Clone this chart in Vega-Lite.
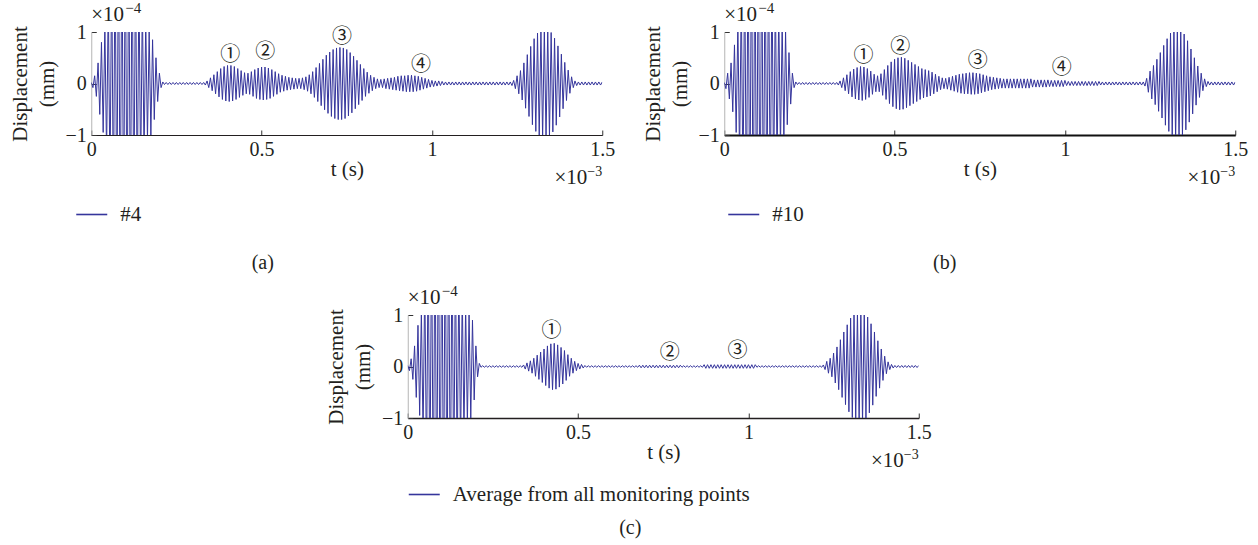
{
"$schema": "https://vega.github.io/schema/vega-lite/v6.json",
"background": "white",
"padding": {"left": 9, "top": 1, "right": 5, "bottom": 5},
"config": {
  "font": "Liberation Serif",
  "view": {"stroke": null},
  "axis": {"labelFont": "Liberation Serif", "labelFontSize": 20, "labelColor": "#231f20", "titleFont": "Liberation Serif", "titleFontSize": 21, "titleFontWeight": "normal", "titleColor": "#231f20", "grid": false, "tickSize": -5, "tickColor": "#333333", "domainColor": "#231f20", "labelFlush": false, "labelOverlap": false},
  "axisX": {"labelPadding": 9, "titleY": 40, "titleBaseline": "alphabetic", "titleAnchor": "middle"},
  "axisY": {"labelPadding": 10, "titleAngle": -90, "titleX": -71, "titleY": 51.5, "titleBaseline": "middle", "titleAlign": "center", "titleLineHeight": 27, "domainColor": "#b5b5b5"},
  "legend": {"orient": "none", "symbolType": "stroke", "symbolSize": 961, "symbolStrokeWidth": 1.6, "labelFont": "Liberation Serif", "labelFontSize": 21, "labelColor": "#231f20", "labelOffset": 12, "labelLimit": 500, "padding": 0},
  "title": {"font": "Liberation Serif", "fontSize": 20, "fontWeight": "normal", "color": "#231f20"},
  "text": {"font": "Liberation Serif", "color": "#231f20"}
},
"datasets": {
"wave": [
{"t":0,"a":0.02,"b":0.02,"c":0.02},
{"t":0.005,"a":-0.08,"b":-0.1,"c":-0.08},
{"t":0.01,"a":0.15,"b":0.2,"c":0.15},
{"t":0.015,"a":-0.25,"b":-0.3,"c":-0.25},
{"t":0.02,"a":0.4,"b":0.4,"c":0.4},
{"t":0.025,"a":-0.6,"b":-0.55,"c":-0.6},
{"t":0.03,"a":0.8,"b":0.75,"c":0.8},
{"t":0.035,"a":-0.95,"b":-0.95,"c":-0.95},
{"t":0.04,"a":1.15,"b":1.2,"c":1.1},
{"t":0.045,"a":-1.4,"b":-1.5,"c":-1.35},
{"t":0.05,"a":1.7,"b":1.8,"c":1.7},
{"t":0.055,"a":-2,"b":-2.1,"c":-2},
{"t":0.06,"a":2.3,"b":2.4,"c":2.3},
{"t":0.065,"a":-2.5,"b":-2.6,"c":-2.5},
{"t":0.07,"a":2.7,"b":2.8,"c":2.7},
{"t":0.075,"a":-2.9,"b":-3,"c":-2.9},
{"t":0.08,"a":3,"b":3.1,"c":3},
{"t":0.085,"a":-3.1,"b":-3.2,"c":-3.1},
{"t":0.09,"a":3.2,"b":3.2,"c":3.2},
{"t":0.095,"a":-3.2,"b":-3.2,"c":-3.2},
{"t":0.1,"a":3.2,"b":3.2,"c":3.2},
{"t":0.105,"a":-3.2,"b":-3.2,"c":-3.2},
{"t":0.11,"a":3.1,"b":3.1,"c":3.1},
{"t":0.115,"a":-3,"b":-3,"c":-3},
{"t":0.12,"a":2.9,"b":2.9,"c":2.9},
{"t":0.125,"a":-2.7,"b":-2.8,"c":-2.8},
{"t":0.13,"a":2.5,"b":2.6,"c":2.6},
{"t":0.135,"a":-2.3,"b":-2.4,"c":-2.4},
{"t":0.14,"a":2,"b":2.2,"c":2.2},
{"t":0.145,"a":-1.8,"b":-2,"c":-2},
{"t":0.15,"a":1.6,"b":1.8,"c":1.8},
{"t":0.155,"a":-1.4,"b":-1.6,"c":-1.6},
{"t":0.16,"a":1.25,"b":1.45,"c":1.45},
{"t":0.165,"a":-1.1,"b":-1.3,"c":-1.3},
{"t":0.17,"a":1.02,"b":1.18,"c":1.2},
{"t":0.175,"a":-1,"b":-1.1,"c":-1.12},
{"t":0.18,"a":0.85,"b":1.02,"c":1.06},
{"t":0.185,"a":-0.7,"b":-0.8,"c":-1.02},
{"t":0.19,"a":0.5,"b":0.6,"c":0.9},
{"t":0.195,"a":-0.35,"b":-0.4,"c":-0.65},
{"t":0.2,"a":0.2,"b":0.2,"c":0.4},
{"t":0.205,"a":-0.08,"b":-0.08,"c":-0.2},
{"t":0.21,"a":0.03,"b":0.03,"c":0.06},
{"t":0.215,"a":-0.02,"b":-0.02,"c":-0.015},
{"t":0.22,"a":0.02,"b":0.02,"c":0.015},
{"t":0.225,"a":-0.02,"b":-0.02,"c":-0.015},
{"t":0.23,"a":0.02,"b":0.02,"c":0.015},
{"t":0.235,"a":-0.02,"b":-0.02,"c":-0.015},
{"t":0.24,"a":0.02,"b":0.02,"c":0.015},
{"t":0.245,"a":-0.02,"b":-0.02,"c":-0.015},
{"t":0.25,"a":0.02,"b":0.02,"c":0.015},
{"t":0.255,"a":-0.02,"b":-0.02,"c":-0.015},
{"t":0.26,"a":0.02,"b":0.02,"c":0.015},
{"t":0.265,"a":-0.02,"b":-0.02,"c":-0.015},
{"t":0.27,"a":0.02,"b":0.02,"c":0.015},
{"t":0.275,"a":-0.02,"b":-0.02,"c":-0.015},
{"t":0.28,"a":0.02,"b":0.02,"c":0.015},
{"t":0.285,"a":-0.02,"b":-0.02,"c":-0.015},
{"t":0.29,"a":0.02,"b":0.02,"c":0.015},
{"t":0.295,"a":-0.02,"b":-0.02,"c":-0.015},
{"t":0.3,"a":0.02,"b":0.02,"c":0.015},
{"t":0.305,"a":-0.02,"b":-0.02,"c":-0.015},
{"t":0.31,"a":0.02,"b":0.02,"c":0.015},
{"t":0.315,"a":-0.02,"b":-0.02,"c":-0.015},
{"t":0.32,"a":0.02,"b":0.02,"c":0.015},
{"t":0.325,"a":-0.02,"b":-0.02,"c":-0.015},
{"t":0.33,"a":0.02,"b":0.02,"c":0.015},
{"t":0.335,"a":-0.03,"b":-0.03,"c":-0.015},
{"t":0.34,"a":0.05,"b":0.05,"c":0.03},
{"t":0.345,"a":-0.08,"b":-0.08,"c":-0.05},
{"t":0.35,"a":0.11,"b":0.11,"c":0.07},
{"t":0.355,"a":-0.14,"b":-0.14,"c":-0.09},
{"t":0.36,"a":0.17,"b":0.17,"c":0.11},
{"t":0.365,"a":-0.2,"b":-0.2,"c":-0.13},
{"t":0.37,"a":0.23,"b":0.23,"c":0.16},
{"t":0.375,"a":-0.26,"b":-0.26,"c":-0.19},
{"t":0.38,"a":0.29,"b":0.28,"c":0.22},
{"t":0.385,"a":-0.31,"b":-0.3,"c":-0.25},
{"t":0.39,"a":0.33,"b":0.31,"c":0.28},
{"t":0.395,"a":-0.34,"b":-0.32,"c":-0.31},
{"t":0.4,"a":0.35,"b":0.33,"c":0.34},
{"t":0.405,"a":-0.35,"b":-0.33,"c":-0.37},
{"t":0.41,"a":0.35,"b":0.32,"c":0.4},
{"t":0.415,"a":-0.34,"b":-0.31,"c":-0.42},
{"t":0.42,"a":0.33,"b":0.29,"c":0.44},
{"t":0.425,"a":-0.31,"b":-0.27,"c":-0.45},
{"t":0.43,"a":0.29,"b":0.24,"c":0.45},
{"t":0.435,"a":-0.27,"b":-0.21,"c":-0.44},
{"t":0.44,"a":0.25,"b":0.18,"c":0.42},
{"t":0.445,"a":-0.23,"b":-0.16,"c":-0.4},
{"t":0.45,"a":0.21,"b":0.15,"c":0.37},
{"t":0.455,"a":-0.2,"b":-0.16,"c":-0.34},
{"t":0.46,"a":0.2,"b":0.19,"c":0.31},
{"t":0.465,"a":-0.21,"b":-0.23,"c":-0.27},
{"t":0.47,"a":0.23,"b":0.27,"c":0.23},
{"t":0.475,"a":-0.25,"b":-0.31,"c":-0.19},
{"t":0.48,"a":0.27,"b":0.35,"c":0.16},
{"t":0.485,"a":-0.29,"b":-0.39,"c":-0.13},
{"t":0.49,"a":0.3,"b":0.42,"c":0.1},
{"t":0.495,"a":-0.31,"b":-0.45,"c":-0.08},
{"t":0.5,"a":0.32,"b":0.47,"c":0.06},
{"t":0.505,"a":-0.32,"b":-0.49,"c":-0.05},
{"t":0.51,"a":0.32,"b":0.5,"c":0.04},
{"t":0.515,"a":-0.31,"b":-0.51,"c":-0.03},
{"t":0.52,"a":0.3,"b":0.51,"c":0.02},
{"t":0.525,"a":-0.29,"b":-0.5,"c":-0.015},
{"t":0.53,"a":0.27,"b":0.49,"c":0.015},
{"t":0.535,"a":-0.25,"b":-0.47,"c":-0.015},
{"t":0.54,"a":0.23,"b":0.45,"c":0.015},
{"t":0.545,"a":-0.21,"b":-0.43,"c":-0.015},
{"t":0.55,"a":0.19,"b":0.41,"c":0.015},
{"t":0.555,"a":-0.17,"b":-0.39,"c":-0.015},
{"t":0.56,"a":0.16,"b":0.37,"c":0.015},
{"t":0.565,"a":-0.15,"b":-0.35,"c":-0.015},
{"t":0.57,"a":0.14,"b":0.33,"c":0.015},
{"t":0.575,"a":-0.13,"b":-0.31,"c":-0.015},
{"t":0.58,"a":0.12,"b":0.29,"c":0.015},
{"t":0.585,"a":-0.12,"b":-0.28,"c":-0.015},
{"t":0.59,"a":0.11,"b":0.27,"c":0.015},
{"t":0.595,"a":-0.11,"b":-0.26,"c":-0.015},
{"t":0.6,"a":0.1,"b":0.25,"c":0.015},
{"t":0.605,"a":-0.1,"b":-0.24,"c":-0.015},
{"t":0.61,"a":0.1,"b":0.22,"c":0.015},
{"t":0.615,"a":-0.1,"b":-0.2,"c":-0.015},
{"t":0.62,"a":0.11,"b":0.18,"c":0.015},
{"t":0.625,"a":-0.12,"b":-0.16,"c":-0.015},
{"t":0.63,"a":0.13,"b":0.14,"c":0.015},
{"t":0.635,"a":-0.15,"b":-0.12,"c":-0.015},
{"t":0.64,"a":0.17,"b":0.11,"c":0.015},
{"t":0.645,"a":-0.2,"b":-0.1,"c":-0.015},
{"t":0.65,"a":0.23,"b":0.1,"c":0.015},
{"t":0.655,"a":-0.27,"b":-0.11,"c":-0.015},
{"t":0.66,"a":0.31,"b":0.12,"c":0.015},
{"t":0.665,"a":-0.35,"b":-0.13,"c":-0.015},
{"t":0.67,"a":0.39,"b":0.14,"c":0.015},
{"t":0.675,"a":-0.43,"b":-0.15,"c":-0.015},
{"t":0.68,"a":0.47,"b":0.16,"c":0.025},
{"t":0.685,"a":-0.51,"b":-0.17,"c":-0.025},
{"t":0.69,"a":0.55,"b":0.18,"c":0.025},
{"t":0.695,"a":-0.58,"b":-0.19,"c":-0.025},
{"t":0.7,"a":0.61,"b":0.19,"c":0.025},
{"t":0.705,"a":-0.64,"b":-0.2,"c":-0.025},
{"t":0.71,"a":0.66,"b":0.2,"c":0.025},
{"t":0.715,"a":-0.68,"b":-0.2,"c":-0.025},
{"t":0.72,"a":0.69,"b":0.21,"c":0.025},
{"t":0.725,"a":-0.7,"b":-0.21,"c":-0.025},
{"t":0.73,"a":0.7,"b":0.21,"c":0.025},
{"t":0.735,"a":-0.7,"b":-0.21,"c":-0.025},
{"t":0.74,"a":0.69,"b":0.2,"c":0.025},
{"t":0.745,"a":-0.68,"b":-0.2,"c":-0.025},
{"t":0.75,"a":0.66,"b":0.19,"c":0.025},
{"t":0.755,"a":-0.63,"b":-0.18,"c":-0.025},
{"t":0.76,"a":0.6,"b":0.17,"c":0.025},
{"t":0.765,"a":-0.57,"b":-0.16,"c":-0.025},
{"t":0.77,"a":0.53,"b":0.15,"c":0.025},
{"t":0.775,"a":-0.49,"b":-0.14,"c":-0.025},
{"t":0.78,"a":0.45,"b":0.13,"c":0.025},
{"t":0.785,"a":-0.41,"b":-0.12,"c":-0.025},
{"t":0.79,"a":0.37,"b":0.12,"c":0.025},
{"t":0.795,"a":-0.33,"b":-0.11,"c":-0.025},
{"t":0.8,"a":0.29,"b":0.11,"c":0.025},
{"t":0.805,"a":-0.25,"b":-0.1,"c":-0.015},
{"t":0.81,"a":0.22,"b":0.1,"c":0.015},
{"t":0.815,"a":-0.19,"b":-0.09,"c":-0.015},
{"t":0.82,"a":0.16,"b":0.09,"c":0.015},
{"t":0.825,"a":-0.14,"b":-0.09,"c":-0.015},
{"t":0.83,"a":0.12,"b":0.09,"c":0.015},
{"t":0.835,"a":-0.1,"b":-0.09,"c":-0.015},
{"t":0.84,"a":0.09,"b":0.09,"c":0.015},
{"t":0.845,"a":-0.08,"b":-0.09,"c":-0.015},
{"t":0.85,"a":0.08,"b":0.09,"c":0.015},
{"t":0.855,"a":-0.08,"b":-0.09,"c":-0.015},
{"t":0.86,"a":0.09,"b":0.09,"c":0.015},
{"t":0.865,"a":-0.1,"b":-0.09,"c":-0.015},
{"t":0.87,"a":0.1,"b":0.09,"c":0.035},
{"t":0.875,"a":-0.11,"b":-0.09,"c":-0.035},
{"t":0.88,"a":0.11,"b":0.09,"c":0.035},
{"t":0.885,"a":-0.12,"b":-0.09,"c":-0.035},
{"t":0.89,"a":0.12,"b":0.09,"c":0.035},
{"t":0.895,"a":-0.13,"b":-0.09,"c":-0.035},
{"t":0.9,"a":0.14,"b":0.09,"c":0.035},
{"t":0.905,"a":-0.14,"b":-0.07,"c":-0.035},
{"t":0.91,"a":0.15,"b":0.07,"c":0.035},
{"t":0.915,"a":-0.15,"b":-0.07,"c":-0.035},
{"t":0.92,"a":0.15,"b":0.07,"c":0.035},
{"t":0.925,"a":-0.16,"b":-0.07,"c":-0.035},
{"t":0.93,"a":0.16,"b":0.07,"c":0.035},
{"t":0.935,"a":-0.16,"b":-0.07,"c":-0.035},
{"t":0.94,"a":0.16,"b":0.07,"c":0.035},
{"t":0.945,"a":-0.16,"b":-0.07,"c":-0.035},
{"t":0.95,"a":0.15,"b":0.07,"c":0.035},
{"t":0.955,"a":-0.15,"b":-0.06,"c":-0.035},
{"t":0.96,"a":0.14,"b":0.06,"c":0.035},
{"t":0.965,"a":-0.13,"b":-0.06,"c":-0.035},
{"t":0.97,"a":0.12,"b":0.06,"c":0.035},
{"t":0.975,"a":-0.11,"b":-0.06,"c":-0.035},
{"t":0.98,"a":0.1,"b":0.06,"c":0.035},
{"t":0.985,"a":-0.09,"b":-0.06,"c":-0.035},
{"t":0.99,"a":0.08,"b":0.06,"c":0.035},
{"t":0.995,"a":-0.07,"b":-0.06,"c":-0.035},
{"t":1,"a":0.06,"b":0.06,"c":0.035},
{"t":1.005,"a":-0.06,"b":-0.04,"c":-0.035},
{"t":1.01,"a":0.05,"b":0.04,"c":0.035},
{"t":1.015,"a":-0.05,"b":-0.04,"c":-0.035},
{"t":1.02,"a":0.05,"b":0.04,"c":0.035},
{"t":1.025,"a":-0.04,"b":-0.04,"c":-0.015},
{"t":1.03,"a":0.04,"b":0.04,"c":0.015},
{"t":1.035,"a":-0.03,"b":-0.04,"c":-0.015},
{"t":1.04,"a":0.03,"b":0.04,"c":0.015},
{"t":1.045,"a":-0.03,"b":-0.04,"c":-0.015},
{"t":1.05,"a":0.03,"b":0.04,"c":0.015},
{"t":1.055,"a":-0.03,"b":-0.04,"c":-0.015},
{"t":1.06,"a":0.03,"b":0.04,"c":0.015},
{"t":1.065,"a":-0.03,"b":-0.04,"c":-0.015},
{"t":1.07,"a":0.03,"b":0.04,"c":0.015},
{"t":1.075,"a":-0.03,"b":-0.04,"c":-0.015},
{"t":1.08,"a":0.03,"b":0.04,"c":0.015},
{"t":1.085,"a":-0.03,"b":-0.04,"c":-0.015},
{"t":1.09,"a":0.03,"b":0.04,"c":0.015},
{"t":1.095,"a":-0.03,"b":-0.04,"c":-0.015},
{"t":1.1,"a":0.03,"b":0.04,"c":0.015},
{"t":1.105,"a":-0.03,"b":-0.03,"c":-0.015},
{"t":1.11,"a":0.03,"b":0.03,"c":0.015},
{"t":1.115,"a":-0.03,"b":-0.03,"c":-0.015},
{"t":1.12,"a":0.03,"b":0.03,"c":0.015},
{"t":1.125,"a":-0.03,"b":-0.03,"c":-0.015},
{"t":1.13,"a":0.03,"b":0.03,"c":0.015},
{"t":1.135,"a":-0.03,"b":-0.03,"c":-0.015},
{"t":1.14,"a":0.03,"b":0.03,"c":0.015},
{"t":1.145,"a":-0.03,"b":-0.03,"c":-0.015},
{"t":1.15,"a":0.03,"b":0.03,"c":0.015},
{"t":1.155,"a":-0.03,"b":-0.03,"c":-0.015},
{"t":1.16,"a":0.03,"b":0.03,"c":0.015},
{"t":1.165,"a":-0.03,"b":-0.03,"c":-0.015},
{"t":1.17,"a":0.03,"b":0.03,"c":0.015},
{"t":1.175,"a":-0.03,"b":-0.03,"c":-0.015},
{"t":1.18,"a":0.03,"b":0.03,"c":0.015},
{"t":1.185,"a":-0.03,"b":-0.03,"c":-0.015},
{"t":1.19,"a":0.03,"b":0.03,"c":0.015},
{"t":1.195,"a":-0.03,"b":-0.03,"c":-0.015},
{"t":1.2,"a":0.03,"b":0.03,"c":0.015},
{"t":1.205,"a":-0.03,"b":-0.03,"c":-0.015},
{"t":1.21,"a":0.03,"b":0.03,"c":0.015},
{"t":1.215,"a":-0.03,"b":-0.03,"c":-0.015},
{"t":1.22,"a":0.03,"b":0.03,"c":0.03},
{"t":1.225,"a":-0.03,"b":-0.03,"c":-0.06},
{"t":1.23,"a":0.03,"b":0.03,"c":0.1},
{"t":1.235,"a":-0.04,"b":-0.05,"c":-0.13},
{"t":1.24,"a":0.06,"b":0.1,"c":0.16},
{"t":1.245,"a":-0.1,"b":-0.17,"c":-0.2},
{"t":1.25,"a":0.15,"b":0.24,"c":0.26},
{"t":1.255,"a":-0.2,"b":-0.3,"c":-0.32},
{"t":1.26,"a":0.25,"b":0.35,"c":0.38},
{"t":1.265,"a":-0.32,"b":-0.41,"c":-0.45},
{"t":1.27,"a":0.4,"b":0.47,"c":0.52},
{"t":1.275,"a":-0.48,"b":-0.54,"c":-0.6},
{"t":1.28,"a":0.56,"b":0.6,"c":0.67},
{"t":1.285,"a":-0.64,"b":-0.67,"c":-0.74},
{"t":1.29,"a":0.72,"b":0.74,"c":0.81},
{"t":1.295,"a":-0.8,"b":-0.81,"c":-0.88},
{"t":1.3,"a":0.87,"b":0.87,"c":0.94},
{"t":1.305,"a":-0.93,"b":-0.93,"c":-0.99},
{"t":1.31,"a":0.98,"b":0.98,"c":1.03},
{"t":1.315,"a":-1.02,"b":-1.02,"c":-1.06},
{"t":1.32,"a":1.05,"b":1.05,"c":1.08},
{"t":1.325,"a":-1.07,"b":-1.07,"c":-1.09},
{"t":1.33,"a":1.08,"b":1.08,"c":1.09},
{"t":1.335,"a":-1.08,"b":-1.07,"c":-1.08},
{"t":1.34,"a":1.06,"b":1.05,"c":1.05},
{"t":1.345,"a":-1.03,"b":-1.01,"c":-1.01},
{"t":1.35,"a":0.99,"b":0.96,"c":0.96},
{"t":1.355,"a":-0.94,"b":-0.9,"c":-0.9},
{"t":1.36,"a":0.88,"b":0.83,"c":0.83},
{"t":1.365,"a":-0.81,"b":-0.75,"c":-0.75},
{"t":1.37,"a":0.73,"b":0.67,"c":0.67},
{"t":1.375,"a":-0.65,"b":-0.59,"c":-0.58},
{"t":1.38,"a":0.57,"b":0.5,"c":0.5},
{"t":1.385,"a":-0.49,"b":-0.42,"c":-0.42},
{"t":1.39,"a":0.41,"b":0.34,"c":0.34},
{"t":1.395,"a":-0.33,"b":-0.27,"c":-0.27},
{"t":1.4,"a":0.26,"b":0.2,"c":0.2},
{"t":1.405,"a":-0.19,"b":-0.14,"c":-0.14},
{"t":1.41,"a":0.13,"b":0.09,"c":0.09},
{"t":1.415,"a":-0.08,"b":-0.06,"c":-0.06},
{"t":1.42,"a":0.05,"b":0.04,"c":0.04},
{"t":1.425,"a":-0.04,"b":-0.03,"c":-0.03},
{"t":1.43,"a":0.03,"b":0.03,"c":0.02},
{"t":1.435,"a":-0.03,"b":-0.03,"c":-0.02},
{"t":1.44,"a":0.03,"b":0.03,"c":0.02},
{"t":1.445,"a":-0.03,"b":-0.03,"c":-0.02},
{"t":1.45,"a":0.03,"b":0.03,"c":0.02},
{"t":1.455,"a":-0.03,"b":-0.03,"c":-0.02},
{"t":1.46,"a":0.03,"b":0.03,"c":0.02},
{"t":1.465,"a":-0.03,"b":-0.03,"c":-0.02},
{"t":1.47,"a":0.03,"b":0.03,"c":0.02},
{"t":1.475,"a":-0.03,"b":-0.03,"c":-0.02},
{"t":1.48,"a":0.03,"b":0.03,"c":0.02},
{"t":1.485,"a":-0.03,"b":-0.03,"c":-0.02},
{"t":1.49,"a":0.03,"b":0.03,"c":0.02},
{"t":1.495,"a":-0.03,"b":-0.03,"c":-0.02},
{"t":1.5,"a":0.03,"b":0.03,"c":0.02}
],
"ann_a": [{"t":0.408,"a":0.56,"n":"①"},{"t":0.511,"a":0.62,"n":"②"},{"t":0.736,"a":0.9,"n":"③"},{"t":0.968,"a":0.36,"n":"④"}],
"ann_b": [{"t":0.409,"b":0.53,"n":"①"},{"t":0.517,"b":0.71,"n":"②"},{"t":0.744,"b":0.44,"n":"③"},{"t":0.991,"b":0.3,"n":"④"}],
"ann_c": [{"t":0.422,"c":0.68,"n":"①"},{"t":0.769,"c":0.26,"n":"②"},{"t":0.968,"c":0.31,"n":"③"}],
"exp_a": [{"t":0,"a":1,"s":"×10","e":"−4"}],
"exp_b": [{"t":0,"b":1,"s":"×10","e":"−4"}],
"exp_c": [{"t":0,"c":1,"s":"×10","e":"−4"}],
"xexp_a": [{"t":1.5,"a":-1,"s":"×10","e":"−3"}],
"xexp_b": [{"t":1.5,"b":-1,"s":"×10","e":"−3"}],
"xexp_c": [{"t":1.5,"c":-1,"s":"×10","e":"−3"}]
},
"bounds": "full",
"spacing": 11,
"center": true,
"resolve": {"scale": {"x": "independent", "y": "independent", "color": "independent"}, "legend": {"color": "independent"}},
"vconcat": [
{
 "hconcat": [
  {
   "width": 511, "height": 103,
   "title": {"text": "(a)", "orient": "bottom", "anchor": "middle", "frame": "group", "dx": -84, "offset": 28},
   "encoding": {
     "x": {"field": "t", "type": "quantitative", "scale": {"domain": [0, 1.5], "nice": false, "zero": false}, "axis": {"title": "t (s)", "values": [0, 0.5, 1, 1.5], "format": "~g", "domainWidth": 1.2}},
     "y": {"field": "a", "type": "quantitative", "scale": {"domain": [-1, 1], "nice": false}, "axis": {"title": ["Displacement", "(mm)"], "values": [-1, 0, 1], "format": "~g"}}
   },
   "layer": [
    {"data": {"name": "wave"}, "mark": {"type": "line", "clip": true, "strokeWidth": 1}, "encoding": {"color": {"datum": "#4", "scale": {"range": ["#35359c"]}, "legend": {"title": null, "legendX": -16, "legendY": 166}}}},
    {"data": {"name": "ann_a"}, "mark": {"type": "text", "font": "Noto Sans CJK JP", "fontSize": 20, "baseline": "middle"}, "encoding": {"text": {"field": "n"}}},
    {"data": {"name": "exp_a"}, "mark": {"type": "text", "align": "left", "baseline": "alphabetic", "dy": -11, "fontSize": 21}, "encoding": {"text": {"field": "s"}}},
    {"data": {"name": "exp_a"}, "mark": {"type": "text", "align": "left", "baseline": "alphabetic", "dx": 34, "dy": -19, "fontSize": 15}, "encoding": {"text": {"field": "e"}}},
    {"data": {"name": "xexp_a"}, "mark": {"type": "text", "align": "right", "baseline": "alphabetic", "dx": -15, "dy": 49, "fontSize": 21}, "encoding": {"text": {"field": "s"}}},
    {"data": {"name": "xexp_a"}, "mark": {"type": "text", "align": "right", "baseline": "alphabetic", "dy": 41, "fontSize": 14}, "encoding": {"text": {"field": "e"}}}
   ]
  },
  {
   "width": 511, "height": 103,
   "title": {"text": "(b)", "orient": "bottom", "anchor": "middle", "frame": "group", "dx": -35, "offset": 28},
   "encoding": {
     "x": {"field": "t", "type": "quantitative", "scale": {"domain": [0, 1.5], "nice": false, "zero": false}, "axis": {"title": "t (s)", "values": [0, 0.5, 1, 1.5], "format": "~g", "domainWidth": 2.2, "domainColor": "#111111"}},
     "y": {"field": "b", "type": "quantitative", "scale": {"domain": [-1, 1], "nice": false}, "axis": {"title": ["Displacement", "(mm)"], "values": [-1, 0, 1], "format": "~g"}}
   },
   "layer": [
    {"data": {"name": "wave"}, "mark": {"type": "line", "clip": true, "strokeWidth": 1}, "encoding": {"color": {"datum": "#10", "scale": {"range": ["#35359c"]}, "legend": {"title": null, "legendX": 3, "legendY": 166}}}},
    {"data": {"name": "ann_b"}, "mark": {"type": "text", "font": "Noto Sans CJK JP", "fontSize": 20, "baseline": "middle"}, "encoding": {"text": {"field": "n"}}},
    {"data": {"name": "exp_b"}, "mark": {"type": "text", "align": "left", "baseline": "alphabetic", "dy": -11, "fontSize": 21}, "encoding": {"text": {"field": "s"}}},
    {"data": {"name": "exp_b"}, "mark": {"type": "text", "align": "left", "baseline": "alphabetic", "dx": 34, "dy": -19, "fontSize": 15}, "encoding": {"text": {"field": "e"}}},
    {"data": {"name": "xexp_b"}, "mark": {"type": "text", "align": "right", "baseline": "alphabetic", "dx": -15, "dy": 49, "fontSize": 21}, "encoding": {"text": {"field": "s"}}},
    {"data": {"name": "xexp_b"}, "mark": {"type": "text", "align": "right", "baseline": "alphabetic", "dy": 41, "fontSize": 14}, "encoding": {"text": {"field": "e"}}}
   ]
  }
 ],
 "spacing": 122,
 "bounds": "flush",
 "resolve": {"scale": {"x": "independent", "y": "independent", "color": "independent"}, "legend": {"color": "independent"}}
},
{
 "width": 511, "height": 103,
 "title": {"text": "(c)", "orient": "bottom", "anchor": "middle", "frame": "group", "dx": -33, "offset": 13},
 "encoding": {
   "x": {"field": "t", "type": "quantitative", "scale": {"domain": [0, 1.5], "nice": false, "zero": false}, "axis": {"title": "t (s)", "values": [0, 0.5, 1, 1.5], "format": "~g", "domainWidth": 1.6}},
   "y": {"field": "c", "type": "quantitative", "scale": {"domain": [-1, 1], "nice": false}, "axis": {"title": ["Displacement", "(mm)"], "values": [-1, 0, 1], "format": "~g"}}
 },
 "layer": [
  {"data": {"name": "wave"}, "mark": {"type": "line", "clip": true, "strokeWidth": 1}, "encoding": {"color": {"datum": "Average from all monitoring points", "scale": {"range": ["#35359c"]}, "legend": {"title": null, "legendX": 0, "legendY": 163}}}},
  {"data": {"name": "ann_c"}, "mark": {"type": "text", "font": "Noto Sans CJK JP", "fontSize": 20, "baseline": "middle"}, "encoding": {"text": {"field": "n"}}},
  {"data": {"name": "exp_c"}, "mark": {"type": "text", "align": "left", "baseline": "alphabetic", "dy": -11, "fontSize": 21}, "encoding": {"text": {"field": "s"}}},
  {"data": {"name": "exp_c"}, "mark": {"type": "text", "align": "left", "baseline": "alphabetic", "dx": 34, "dy": -19, "fontSize": 15}, "encoding": {"text": {"field": "e"}}},
  {"data": {"name": "xexp_c"}, "mark": {"type": "text", "align": "right", "baseline": "alphabetic", "dx": -15, "dy": 49, "fontSize": 21}, "encoding": {"text": {"field": "s"}}},
  {"data": {"name": "xexp_c"}, "mark": {"type": "text", "align": "right", "baseline": "alphabetic", "dy": 41, "fontSize": 14}, "encoding": {"text": {"field": "e"}}}
 ]
}
]
}
